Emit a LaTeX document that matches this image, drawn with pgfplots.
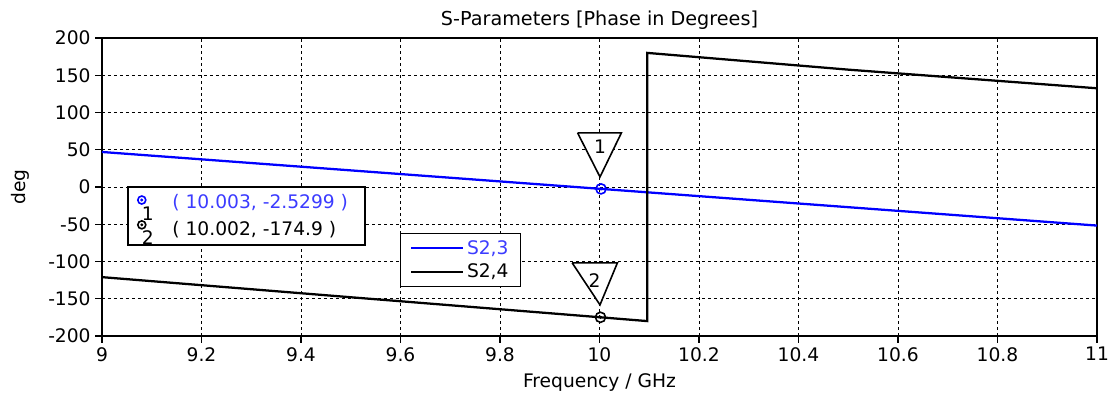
\documentclass[border=0pt]{standalone}
\usepackage{pgfplots}
\pgfplotsset{compat=1.18}
\usepackage{fontspec}
\setmainfont{DejaVu Sans}
\usetikzlibrary{calc}
\definecolor{mblue}{RGB}{0,0,255}
\definecolor{tblue}{RGB}{60,60,255}
\newcommand{\fs}{\fontsize{14}{16}\selectfont}
\begin{document}
\begin{tikzpicture}
\begin{axis}[
  scale only axis,
  width=746.25pt, height=223.5pt,
  xmin=9, xmax=11, ymin=-200, ymax=200,
  xtick={9,9.2,...,11.01},
  ytick={-200,-150,...,200},
  xticklabels={9,9.2,9.4,9.6,9.8,10,10.2,10.4,10.6,10.8,11},
  tick align=outside,
  xtick pos=bottom, ytick pos=left,
  major tick length=5pt,
  tick style={black, line width=0.9pt},
  grid=major,
  major grid style={black, line width=0.7pt, dash pattern=on 2.5pt off 2pt},
  axis line style={black, line width=1pt},
  /pgf/number format/assume math mode=true,
  ticklabel style={font=\fs},
  xlabel={Frequency / GHz},
  xlabel style={font=\fs, at={(axis description cs:0.5,-0.157)}, anchor=center},
  ylabel={deg},
  ylabel style={font=\fs, at={(axis description cs:-0.0824,0.5)}, anchor=center},
  legend style={at={(axis cs:9.599,-61.6)}, anchor=north west, fill=white,
    font=\fs, inner xsep=7pt, inner ysep=3pt, row sep=2pt, line width=1.1pt},
  legend cell align=left,
]
\addlegendimage{legend image code/.code={\draw[mblue, line width=1.7pt] (0pt,0pt) -- (39pt,0pt);}}
\addlegendentry{\textcolor{tblue}{S2,3}}
\addlegendimage{legend image code/.code={\draw[black, line width=1.7pt] (0pt,0pt) -- (39pt,0pt);}}
\addlegendentry{S2,4}

\addplot[mblue, line width=1.7pt, forget plot] coordinates {(9,47) (9.5,22.3) (10,-2.4) (10.5,-27.1) (11,-51.8)};
\addplot[black, line width=1.7pt, forget plot] coordinates {(9,-121) (9.5,-148) (10,-174.8) (10.096,-180) (10.096,180) (10.5,157.5) (11,132.5)};

% marker triangles
\addplot[black, line width=1.2pt, fill=white, forget plot] coordinates {(9.956,72.6) (10.044,72.6) (10.001,13.5) (9.956,72.6)};
\addplot[black, line width=1.2pt, fill=white, forget plot] coordinates {(9.945,-101.8) (10.036,-101.8) (10.001,-158.2) (9.945,-101.8)};
\node[font=\fs] at (axis cs:10.001,54) {1};
\node[font=\fs] at (axis cs:9.99,-125) {2};

% marker points
\addplot[mblue, only marks, mark=o, mark size=3.8pt, line width=1.2pt, forget plot] coordinates {(10.003,-2.5299)};
\addplot[mblue, only marks, mark=*, mark size=1pt, forget plot] coordinates {(10.003,-2.5299)};
\addplot[black, only marks, mark=o, mark size=3.8pt, line width=1.2pt, forget plot] coordinates {(10.002,-174.9)};
\addplot[black, only marks, mark=*, mark size=1pt, forget plot] coordinates {(10.002,-174.9)};

% marker info box
\draw[black, line width=1.3pt, fill=white] (axis cs:9.052,0.13) rectangle (axis cs:9.529,-77.7);
\addplot[mblue, only marks, mark=o, mark size=3pt, line width=1.2pt, forget plot] coordinates {(9.080,-17.5)};
\addplot[mblue, only marks, mark=*, mark size=0.9pt, forget plot] coordinates {(9.080,-17.5)};
\addplot[black, only marks, mark=o, mark size=3pt, line width=1.2pt, forget plot] coordinates {(9.080,-50.8)};
\addplot[black, only marks, mark=*, mark size=0.9pt, forget plot] coordinates {(9.080,-50.8)};
\node[font=\fs, inner sep=0pt] at (axis cs:9.092,-35.5) {1};
\node[font=\fs, inner sep=0pt] at (axis cs:9.092,-68.5) {2};
\node[font=\fs, text=tblue, anchor=west, inner sep=0pt] at (axis cs:9.141,-21.5) {( 10.003, -2.5299 )};
\node[font=\fs, anchor=west, inner sep=0pt] at (axis cs:9.141,-57.5) {( 10.002, -174.9 )};
\end{axis}
\node[font=\fontsize{14.4}{16}\selectfont] at ($(current axis.north)+(0,13.5pt)$) {S-Parameters [Phase in Degrees]};
\pgfresetboundingbox
\path ($(current axis.south west)+(-76.5pt,-43.5pt)$) rectangle ($(current axis.north east)+(10.5pt,28.5pt)$);
\end{tikzpicture}
\end{document}
